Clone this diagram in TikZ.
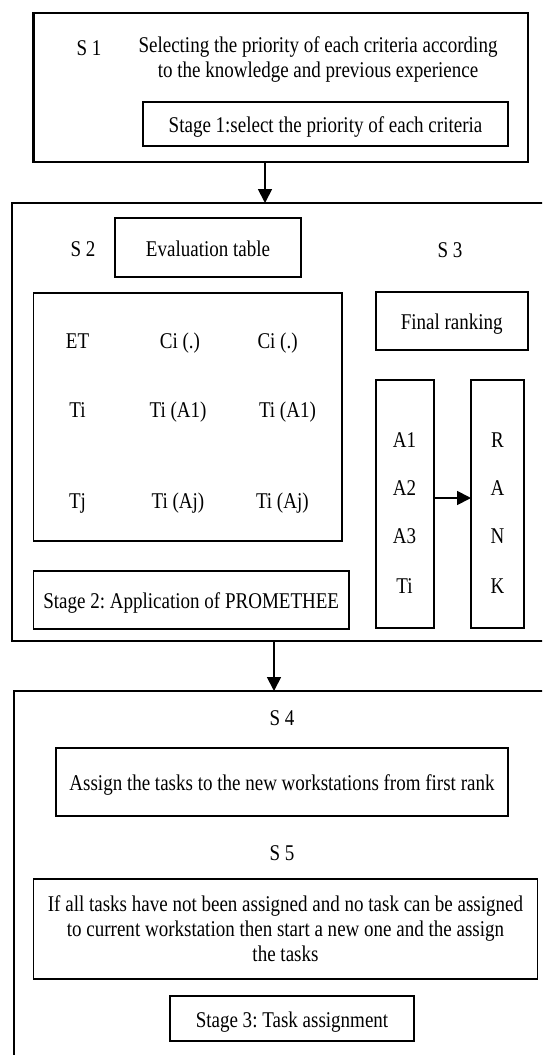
\documentclass[tikz,border=0pt]{standalone}
\usepackage{fontspec}
\setmainfont{Liberation Serif}[FakeStretch=0.845]
\usetikzlibrary{arrows.meta}
\frenchspacing
\begin{document}
\begin{tikzpicture}[x=1pt,y=-1pt,
  every node/.style={font=\fontsize{22.5}{25}\selectfont, inner sep=0pt, outer sep=0pt},
  frame/.style={draw, line width=2.2pt},
  box/.style={draw, line width=1.8pt},
  tb/.style={text height=21.4pt, text depth=4pt},
  lab/.style={anchor=base},
  arr/.style={line width=1.8pt, -{Triangle[length=14pt,width=14pt]}}]
\useasboundingbox (0,0) rectangle (542,1055);
\fill[white] (0,0) rectangle (542,1055);
\clip (0,0) rectangle (542,1055);
% Stage 1
\node[frame, minimum width=494.5pt, minimum height=149pt] (s1) at (280.75,87.75) {};
\node[lab] (l1) at (89,55) {S 1};
\node[align=center] (t1) at (318,60) {Selecting the priority of each criteria according\\to the knowledge and previous experience};
\node[box, tb, minimum width=365pt, minimum height=44pt] (st1) at (325.5,124) {Stage 1:select the priority of each criteria};
% Stage 2 frame
\node[frame, minimum width=548pt, minimum height=438pt] (s2) at (286,422) {};
\node[lab] (l2) at (83,256) {S 2};
\node[box, tb, minimum width=186pt, minimum height=59pt] (ev) at (208,247.5) {Evaluation table};
\node[lab] (l3) at (450,257) {S 3};
\node[box, minimum width=308.5pt, minimum height=248pt] (tab) at (187.75,417) {};
\node[lab] (e11) at (77.5,348) {ET};
\node[lab] (e12) at (180,348) {Ci (.)};
\node[anchor=base west] (e13) at (257.5,348) {Ci (.)};
\node[lab] (e21) at (77.5,417) {Ti};
\node[lab] (e22) at (178,417) {Ti (A1)};
\node[anchor=base west] (e23) at (259,417) {Ti (A1)};
\node[lab] (e31) at (77.5,508) {Tj};
\node[lab] (e32) at (178,508) {Ti (Aj)};
\node[anchor=base west] (e33) at (256,508) {Ti (Aj)};
\node[box, tb, minimum width=152pt, minimum height=58pt] (fr) at (451.75,321) {Final ranking};
\node[box, minimum width=58pt, minimum height=248pt] (acol) at (404.75,504) {};
\node[box, minimum width=53pt, minimum height=248pt] (rcol) at (497.5,504) {};
\node[lab] (a1) at (404.5,447) {A1};
\node[lab] (a2) at (404.5,495) {A2};
\node[lab] (a3) at (404.5,543) {A3};
\node[lab] (a4) at (404.5,593) {Ti};
\node[lab] (r1) at (497.5,447) {R};
\node[lab] (r2) at (497.5,495) {A};
\node[lab] (r3) at (497.5,543) {N};
\node[lab] (r4) at (497.5,593) {K};
\coordinate (ya) at (0,498);
\draw[arr] (acol.east |- ya) -- (rcol.west |- ya);
\node[box, tb, minimum width=315.5pt, minimum height=58pt] (st2) at (191.25,600) {Stage 2: Application of PROMETHEE};
% Stage 3 frame
\node[frame, minimum width=546pt, minimum height=389pt] (s4) at (287,885.5) {};
\node[lab] (l4) at (282,725) {S 4};
\node[box, tb, minimum width=452pt, minimum height=68pt] (as) at (282,782) {Assign the tasks to the new workstations from first rank};
\node[lab] (l5) at (282,860) {S 5};
\node[box, minimum width=504pt, minimum height=100pt, align=center] (s5) at (285.5,929) {If all tasks have not been assigned and no task can be assigned\\to current workstation then start a new one and the assign\\the tasks};
\node[box, tb, minimum width=244pt, minimum height=45pt] (st3) at (292,1018.5) {Stage 3: Task assignment};
% connectors
\coordinate (x1) at (265,0);
\coordinate (x2) at (274,0);
\draw[arr] (x1 |- s1.south) -- (x1 |- s2.north);
\draw[arr] (x2 |- s2.south) -- (x2 |- s4.north);
\end{tikzpicture}
\end{document}
